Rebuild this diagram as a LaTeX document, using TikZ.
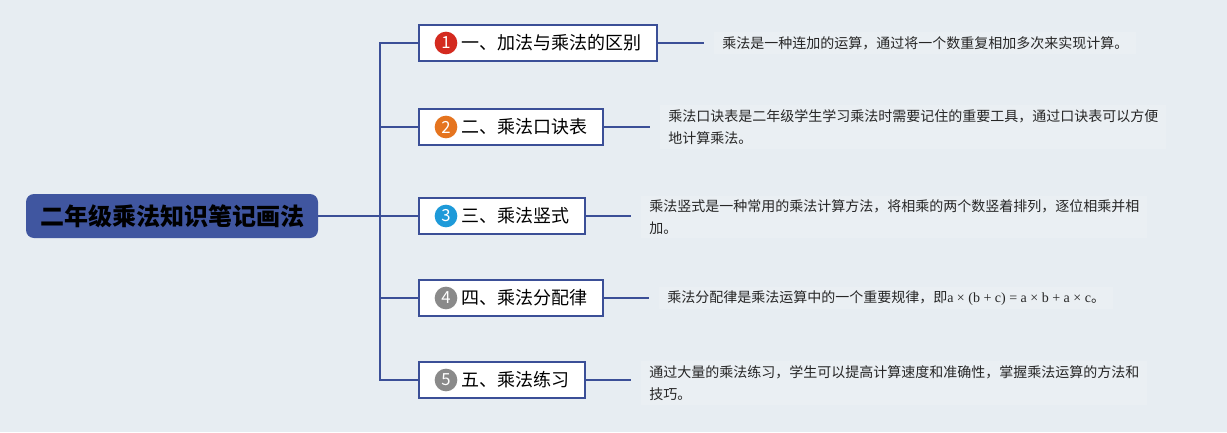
\documentclass[tikz,border=0pt]{standalone}
\usepackage{fontspec}
\newfontfamily\cjk{Noto Sans CJK SC}
\newfontfamily\latinserif{Liberation Serif}
\definecolor{bgcol}{HTML}{E7EDF2}
\definecolor{linecol}{HTML}{3B4F97}
\definecolor{rootcol}{HTML}{4056A0}
\definecolor{desccol}{HTML}{EAEFF3}
\definecolor{redno}{HTML}{D42A1F}
\definecolor{orangeno}{HTML}{E5741F}
\definecolor{blueno}{HTML}{1E9AD9}
\definecolor{greyno}{HTML}{8A8A8A}
\tikzset{
  rootbox/.style={fill=rootcol, rounded corners=6pt, minimum width=219pt, minimum height=33pt,
    font=\cjk\bfseries\fontsize{18}{20}\selectfont, text=black},
  topic/.style={draw=linecol, line width=1.5pt, fill=white, anchor=west, minimum height=27pt,
    inner xsep=0pt, font=\cjk\fontsize{13.5}{15}\selectfont, text=black},
  numdot/.style={circle, minimum size=17pt, inner sep=0pt, text=white,
    font=\cjk\fontsize{12.5}{13}\selectfont},
  desc/.style={anchor=west, fill=desccol, align=left, inner xsep=6pt, inner ysep=3pt,
    font=\cjk\fontsize{10.5}{16.5}\selectfont, text=black!85},
  branch/.style={draw=linecol, line width=1.5pt},
}
\newcommand{\topictext}[1]{\hspace*{31.5pt}#1\hspace*{12pt}}
\begin{document}
\begin{tikzpicture}[x=0.75pt, y=-0.75pt]
% background and size
\fill[bgcol] (0,0) rectangle (1227,432);
\useasboundingbox (0,0) rectangle (1227,432);
% central topic
\node[rootbox] (root) at (172,216) {二年级乘法知识笔记画法};
\coordinate (hub) at (380,216);
% subtopics
\node[topic] (t1) at (418,43) {\topictext{一、加法与乘法的区别}};
\node[topic] (t2) at (418,127) {\topictext{二、乘法口诀表}};
\node[topic] (t3) at (418,216) {\topictext{三、乘法竖式}};
\node[topic] (t4) at (418,298) {\topictext{四、乘法分配律}};
\node[topic] (t5) at (418,380) {\topictext{五、乘法练习}};
% number badges
\node[numdot, fill=redno] (n1) at ([xshift=21pt]t1.west) {1};
\node[numdot, fill=orangeno] (n2) at ([xshift=21pt]t2.west) {2};
\node[numdot, fill=blueno] (n3) at ([xshift=21pt]t3.west) {3};
\node[numdot, fill=greyno] (n4) at ([xshift=21pt]t4.west) {4};
\node[numdot, fill=greyno] (n5) at ([xshift=21pt]t5.west) {5};
% notes
\node[desc] (d1) at (714,43) {乘法是一种连加的运算，通过将一个数重复相加多次来实现计算。};
\node[desc] (d2) at (660,127) {乘法口诀表是二年级学生学习乘法时需要记住的重要工具，通过口诀表可以方便\\地计算乘法。};
\node[desc] (d3) at (641,217) {乘法竖式是一种常用的乘法计算方法，将相乘的两个数竖着排列，逐位相乘并相\\加。};
\node[desc] (d4) at (659,298) {乘法分配律是乘法运算中的一个重要规律，即{\latinserif a × (b + c) = a × b + a × c}。};
\node[desc] (d5) at (641,383) {通过大量的乘法练习，学生可以提高计算速度和准确性，掌握乘法运算的方法和\\技巧。};
% connectors
\draw[branch] (root.east) -- (hub);
\foreach \i in {1,...,5} {
  \draw[branch] (hub) |- (t\i.west);
  \draw[branch, shorten >=7.5pt] (t\i.east) -- (t\i.east -| d\i.west);
}
\end{tikzpicture}
\end{document}
